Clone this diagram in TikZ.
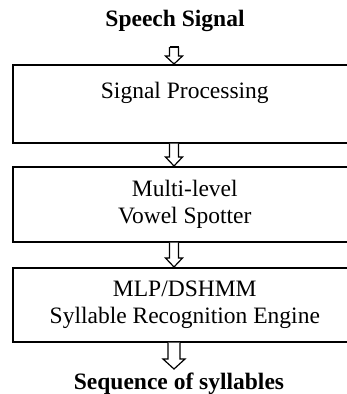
\documentclass[tikz,border=0pt]{standalone}
\usepackage{fontspec}
\setmainfont{Liberation Serif}
\usetikzlibrary{calc}

\tikzset{
  x=1bp, y=1bp,
  stage/.style={draw, line width=1.6bp, minimum width=344bp, align=center,
    anchor=north west, inner sep=0pt,
    font=\fontsize{23.5bp}{27.5bp}\selectfont},
  caption/.style={anchor=base, inner sep=0pt,
    font=\fontsize{23.5bp}{27.5bp}\selectfont\bfseries},
  hollow/.style={draw, line width=1.2bp, fill=white, line join=miter}
}

% Outlined block arrow pointing down from #1 to #2;
% #3 = half width of the shaft, #4 = half width of the head, #5 = head length
\newcommand\blockarrow[5]{%
  \draw[hollow] let \p1=(#1), \p2=(#2) in
    (\x1-#3,\y1) -- (\x1-#3,\y2+#5) -- (\x1-#4,\y2+#5) -- (\x1,\y2)
    -- (\x1+#4,\y2+#5) -- (\x1+#3,\y2+#5) -- (\x1+#3,\y1);}

\begin{document}
\begin{tikzpicture}
  \useasboundingbox (0,0) rectangle (347,-394);
  \clip (0,0) rectangle (347,-394);

  \coordinate (axis) at (174,0);

  \node[caption] (in) at (175,-26) {Speech Signal};

  \node[stage, minimum height=78bp] (sp) at (12,-64)
    {Signal Processing\\\mbox{}};
  \node[stage, minimum height=75bp] (vs) at (12,-166)
    {Multi-level\\Vowel Spotter};
  \node[stage, minimum height=74bp] (re) at (12,-267)
    {MLP/DSHMM\\Syllable Recognition Engine};

  \node[caption] (out) at (179,-389) {Sequence of syllables};

  % connectors between the stages
  \coordinate (a0top) at ($(in.base -| axis)+(0,-21)$);
  \blockarrow{a0top}{sp.north -| axis}{4.5}{8.5}{8}
  \draw[hollow] ($(a0top)+(-4.5,0)$) -- ($(a0top)+(4.5,0)$);
  \blockarrow{sp.south -| axis}{vs.north -| axis}{4.5}{8.5}{9}
  \blockarrow{vs.south -| axis}{re.north -| axis}{4.5}{8.5}{9}
  \blockarrow{re.south -| axis}{$(out.base -| axis)+(0,20)$}{6}{11}{10}
\end{tikzpicture}
\end{document}
